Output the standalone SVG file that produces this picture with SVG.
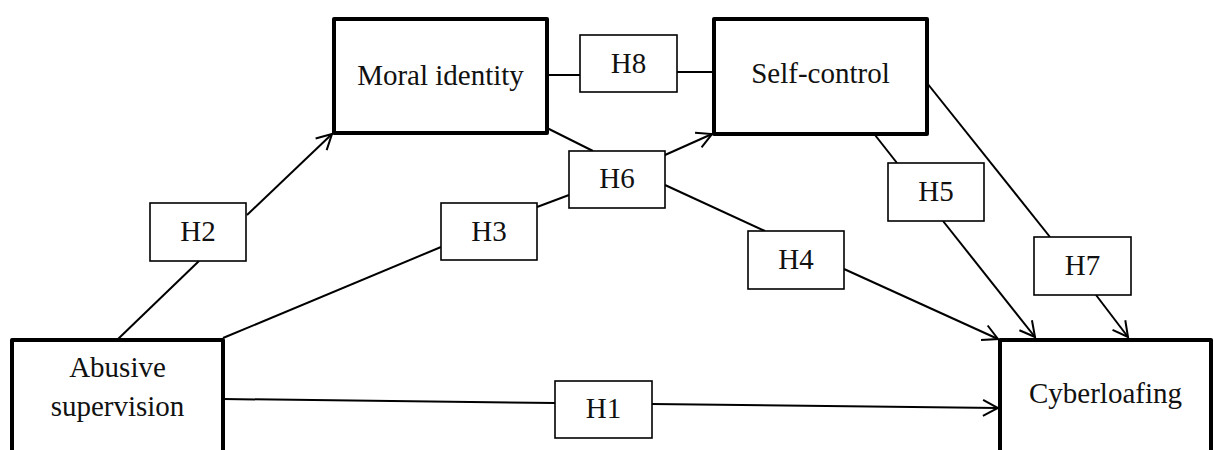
<svg xmlns="http://www.w3.org/2000/svg" width="1214" height="450" viewBox="0 0 1214 450">
<style>
.main{fill:#fff;stroke:#000;stroke-width:4;stroke-linejoin:round}
.hyp{fill:#fff;stroke:#000;stroke-width:1.6}
.t{font-family:"Liberation Serif","Times New Roman",serif;font-size:29px;fill:#111;text-anchor:middle}
.c{fill:none;stroke:#000;stroke-width:2}
.a{marker-end:url(#arr)}
</style>
<defs>
<marker id="arr" viewBox="0 0 20 20" refX="18" refY="10" markerWidth="20" markerHeight="20" markerUnits="userSpaceOnUse" orient="auto">
<path d="M3,2 L18,10 L3,18" fill="none" stroke="#000" stroke-width="2"/>
</marker>
</defs>
<rect width="1214" height="450" fill="#fff"/>
<g id="connectors">
<line class="c" x1="117" y1="340" x2="199" y2="261"/>
<line class="c a" x1="247" y1="215" x2="332" y2="134"/>
<line class="c" x1="223" y1="338" x2="441" y2="247"/>
<line class="c" x1="537" y1="207" x2="569" y2="195"/>
<line class="c a" x1="665" y1="155" x2="712" y2="134"/>
<line class="c" x1="547" y1="128" x2="593" y2="151"/>
<line class="c" x1="665" y1="185" x2="765" y2="231"/>
<line class="c a" x1="844" y1="269" x2="998" y2="339"/>
<line class="c" x1="875" y1="135" x2="897" y2="163"/>
<line class="c a" x1="943" y1="221" x2="1035" y2="337"/>
<line class="c" x1="927" y1="83" x2="1050" y2="237"/>
<line class="c a" x1="1096" y1="295" x2="1128" y2="337"/>
<line class="c" x1="547" y1="75" x2="580" y2="75"/>
<line class="c" x1="677" y1="72" x2="714" y2="72"/>
<line class="c" x1="223" y1="399" x2="555" y2="403"/>
<line class="c a" x1="652" y1="404" x2="998" y2="408"/>
</g>
<g id="abusive">
<rect class="main" x="12" y="340" width="211" height="130"/>
<text class="t" x="117.5" y="377">Abusive</text>
<text class="t" x="117.5" y="416">supervision</text>
</g>
<g id="moral">
<rect class="main" x="334" y="19" width="213" height="114"/>
<text class="t" x="440.5" y="85">Moral identity</text>
</g>
<g id="selfcontrol">
<rect class="main" x="714" y="19" width="213" height="115"/>
<text class="t" x="820.5" y="83">Self-control</text>
</g>
<g id="cyberloafing">
<rect class="main" x="1000" y="340" width="211" height="130"/>
<text class="t" x="1105.5" y="403">Cyberloafing</text>
</g>
<g id="h1"><rect class="hyp" x="555" y="381" width="97" height="57"/><text class="t" x="603.5" y="418">H1</text></g>
<g id="h2"><rect class="hyp" x="150" y="203" width="96" height="58"/><text class="t" x="198" y="241">H2</text></g>
<g id="h3"><rect class="hyp" x="441" y="203" width="96" height="57"/><text class="t" x="489" y="241">H3</text></g>
<g id="h4"><rect class="hyp" x="748" y="231" width="96" height="58"/><text class="t" x="796" y="269">H4</text></g>
<g id="h5"><rect class="hyp" x="888" y="163" width="96" height="58"/><text class="t" x="936" y="201">H5</text></g>
<g id="h6"><rect class="hyp" x="569" y="151" width="96" height="57"/><text class="t" x="617" y="188">H6</text></g>
<g id="h7"><rect class="hyp" x="1034" y="237" width="97" height="58"/><text class="t" x="1082.5" y="275">H7</text></g>
<g id="h8"><rect class="hyp" x="580" y="35" width="97" height="57"/><text class="t" x="628.5" y="73">H8</text></g>
</svg>
